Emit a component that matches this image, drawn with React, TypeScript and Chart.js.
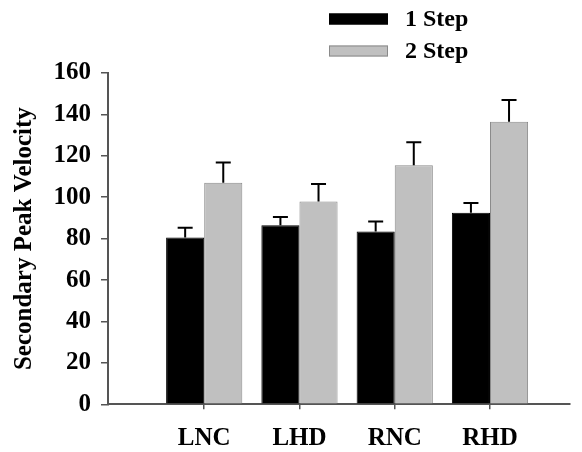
import { useEffect, useRef } from 'react';
import { Chart, registerables } from 'chart.js';

Chart.register(...registerables);

const categories = ['LNC', 'LHD', 'RNC', 'RHD'];
const oneStep = [80.5, 86.5, 83.5, 92.5];
const oneStepErr = [4.8, 3.9, 4.8, 4.7];
const twoStep = [107, 98, 115.5, 136.5];
const twoStepErr = [9.8, 8.4, 11.1, 10.5];
const yTicks = [0, 20, 40, 60, 80, 100, 120, 140, 160];
const seriesLabels = ['1 Step', '2 Step'];
const yTitle = 'Secondary Peak Velocity';

const FONT = "'Liberation Serif', 'Times New Roman', serif";
const AXIS = '#555555';

const errorBarPlugin = {
  id: 'errorBars',
  afterDatasetsDraw(chart: any) {
    const ctx = chart.ctx;
    const yScale = chart.scales.y;
    ctx.save();
    ctx.strokeStyle = '#000';
    ctx.lineWidth = 2;
    chart.data.datasets.forEach((ds: any, di: number) => {
      const meta = chart.getDatasetMeta(di);
      meta.data.forEach((el: any, i: number) => {
        const v = ds.data[i].y;
        const e = ds.errors[i];
        const top = yScale.getPixelForValue(v + e);
        ctx.beginPath();
        ctx.moveTo(el.x, el.y);
        ctx.lineTo(el.x, top);
        ctx.moveTo(el.x - 7.5, top);
        ctx.lineTo(el.x + 7.5, top);
        ctx.stroke();
      });
    });
    ctx.restore();
  },
};

const legendPlugin = {
  id: 'stackedLegend',
  afterDraw(chart: any) {
    const ctx = chart.ctx;
    ctx.save();
    chart.data.datasets.forEach((ds: any, i: number) => {
      const cy = 11 + i * 32;
      ctx.fillStyle = ds.backgroundColor;
      ctx.fillRect(321, cy - 5.5, 59, 11);
      ctx.strokeStyle = ds.borderColor;
      ctx.lineWidth = 1;
      ctx.strokeRect(321.5, cy - 5, 58, 10);
      ctx.fillStyle = '#000';
      ctx.font = `bold 24px ${FONT}`;
      ctx.textBaseline = 'middle';
      ctx.textAlign = 'left';
      ctx.fillText(ds.label, 397, cy + 1);
    });
    ctx.restore();
  },
};

export default function App() {
  const ref = useRef<HTMLCanvasElement | null>(null);
  useEffect(() => {
    if (!ref.current) return;
    const chart = new Chart(ref.current, {
      type: 'bar',
      data: {
        datasets: [
          {
            label: seriesLabels[0],
            data: oneStep.map((v, i) => ({ x: i + 1, y: v })),
            errors: oneStepErr,
            backgroundColor: '#000000',
            borderColor: '#000000',
            borderWidth: 1,
            categoryPercentage: 0.8,
            barPercentage: 1.0,
          } as any,
          {
            label: seriesLabels[1],
            data: twoStep.map((v, i) => ({ x: i + 1, y: v })),
            errors: twoStepErr,
            backgroundColor: '#c0c0c0',
            borderColor: '#8a8a8a',
            borderWidth: 1,
            categoryPercentage: 0.8,
            barPercentage: 1.0,
          } as any,
        ],
      },
      options: {
        responsive: false,
        animation: false,
        layout: { padding: { top: 65, right: 12, left: 0, bottom: 0 } },
        plugins: { legend: { display: false }, tooltip: { enabled: false } },
        scales: {
          x: {
            type: 'linear',
            offset: false,
            min: -0.01,
            max: 4.84,
            afterBuildTicks: (scale: any) => {
              scale.ticks = categories.map((_, i) => ({ value: i + 1 }));
            },
            afterFit: (scale: any) => {
              scale.height = 47.7;
            },
            ticks: {
              callback: (v: any) => categories[Math.round(v) - 1] ?? '',
              color: '#000',
              font: { family: FONT, size: 25, weight: 'bold' },
              padding: 14,
              maxRotation: 0,
              autoSkip: false,
            },
            grid: { offset: false, drawOnChartArea: false, drawTicks: true, tickLength: 5, color: AXIS, lineWidth: 1.5 },
            border: { display: true, color: AXIS, width: 2 },
          },
          y: {
            min: 0,
            max: 160,
            afterBuildTicks: (scale: any) => {
              scale.ticks = yTicks.map((v) => ({ value: v }));
            },
            afterFit: (scale: any) => {
              scale.width = 100;
            },
            ticks: {
              color: '#000',
              font: { family: FONT, size: 25, weight: 'bold' },
              padding: 10,
            },
            title: {
              display: true,
              text: yTitle,
              color: '#000',
              font: { family: FONT, size: 25, weight: 'bold' },
              padding: { top: 2, bottom: 0 },
            },
            grid: { drawOnChartArea: false, drawTicks: true, tickLength: 7, color: AXIS, lineWidth: 1.5 },
            border: { display: true, color: AXIS, width: 2 },
          },
        },
      } as any,
      plugins: [errorBarPlugin, legendPlugin],
    });
    return () => chart.destroy();
  }, []);
  return (
    <div style={{ width: 574, height: 444 }}>
      <canvas ref={ref} width={574} height={444} style={{ display: 'block' }} />
    </div>
  );
}
